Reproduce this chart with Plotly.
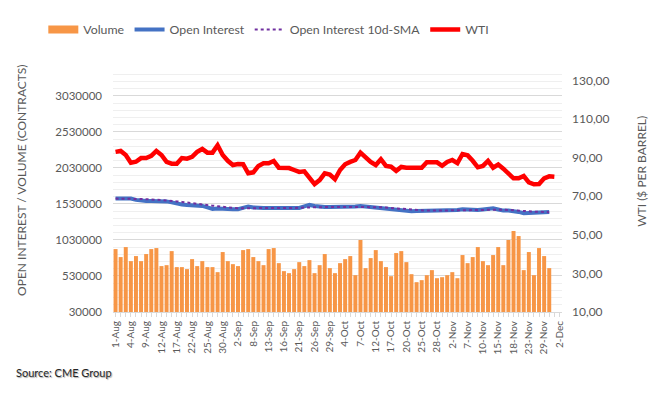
import plotly.graph_objects as go

# ---- categories (business days) ----
aug_days = [1, 2, 3, 4, 5, 8, 9, 10, 11, 12, 15, 16, 17, 18, 19, 22, 23, 24, 25, 26, 29, 30, 31]
sep_days = [1, 2, 6, 7, 8, 9, 12, 13, 14, 15, 16, 19, 20, 21, 22, 23, 26, 27, 28, 29, 30]
oct_days = [3, 4, 5, 6, 7, 10, 11, 12, 13, 14, 17, 18, 19, 20, 21, 24, 25, 26, 27, 28, 31]
nov_days = [1, 2, 3, 4, 7, 8, 9, 10, 11, 14, 15, 16, 17, 18, 21, 22, 23, 25, 28, 29, 30]
dec_days = [1, 2]
dates = ([f"{d}-Aug" for d in aug_days] + [f"{d}-Sep" for d in sep_days] +
         [f"{d}-Oct" for d in oct_days] + [f"{d}-Nov" for d in nov_days] +
         [f"{d}-Dec" for d in dec_days])

tick_labels = ["1-Aug", "4-Aug", "9-Aug", "12-Aug", "17-Aug", "22-Aug", "25-Aug", "30-Aug",
               "2-Sep", "8-Sep", "13-Sep", "16-Sep", "21-Sep", "26-Sep", "29-Sep",
               "4-Oct", "7-Oct", "12-Oct", "17-Oct", "20-Oct", "25-Oct", "28-Oct",
               "2-Nov", "7-Nov", "10-Nov", "15-Nov", "18-Nov", "23-Nov", "29-Nov", "2-Dec"]

# ---- series ----
volume = [903000, 792000, 931000, 736000, 806000, 736000, 834000, 903000, 917000, 667000,
          680000, 875000, 653000, 653000, 625000, 764000, 667000, 736000, 653000, 653000,
          583000, 862000, 736000, 694000, 667000, 889000, 903000, 792000, 736000, 680000,
          903000, 917000, 708000, 597000, 569000, 625000, 722000, 667000, 750000, 569000,
          680000, 834000, 639000, 569000, 708000, 764000, 806000, 541000, 1029000, 639000,
          778000, 889000, 736000, 653000, 527000, 848000, 875000, 722000, 555000, 444000,
          472000, 541000, 611000, 499000, 513000, 541000, 583000, 499000, 820000, 708000,
          792000, 931000, 736000, 680000, 820000, 931000, 680000, 1029000, 1154000, 1084000,
          611000, 862000, 541000, 917000, 806000, 639000]

open_interest = [1604000, 1604000, 1604000, 1604000, 1586000, 1572000, 1572000, 1572000, 1572000, 1572000,
                 1565000, 1551000, 1530000, 1523000, 1516000, 1509000, 1502000, 1502000, 1481000, 1460000,
                 1467000, 1460000, 1456000, 1456000, 1456000, 1474000, 1495000, 1481000, 1474000, 1474000,
                 1474000, 1474000, 1474000, 1474000, 1474000, 1474000, 1474000, 1495000, 1516000, 1502000,
                 1488000, 1488000, 1488000, 1488000, 1488000, 1488000, 1488000, 1495000, 1502000, 1495000,
                 1488000, 1474000, 1470000, 1460000, 1453000, 1446000, 1440000, 1433000, 1428000, 1433000,
                 1433000, 1437000, 1440000, 1442000, 1442000, 1442000, 1442000, 1446000, 1456000, 1453000,
                 1442000, 1446000, 1453000, 1460000, 1470000, 1453000, 1437000, 1437000, 1433000, 1419000,
                 1400000, 1405000, 1409000, 1412000, 1412000, 1419000]

oi_sma10 = [1604000, 1604000, 1604000, 1604000, 1604000, 1600000, 1596000, 1593000, 1589000, 1586000,
            1579000, 1572000, 1565000, 1558000, 1551000, 1544000, 1534000, 1526000, 1516000, 1506000,
            1498000, 1488000, 1481000, 1474000, 1470000, 1467000, 1470000, 1470000, 1472000, 1474000,
            1474000, 1474000, 1474000, 1474000, 1474000, 1474000, 1474000, 1477000, 1481000, 1484000,
            1485000, 1488000, 1488000, 1488000, 1488000, 1488000, 1488000, 1491000, 1492000, 1492000,
            1491000, 1488000, 1484000, 1479000, 1474000, 1467000, 1460000, 1453000, 1446000, 1442000,
            1440000, 1437000, 1437000, 1437000, 1437000, 1437000, 1440000, 1440000, 1442000, 1444000,
            1444000, 1446000, 1446000, 1449000, 1451000, 1451000, 1449000, 1446000, 1444000, 1440000,
            1433000, 1428000, 1423000, 1419000, 1419000, 1416000]

wti = [93.0, 93.5, 91.4, 87.4, 87.9, 89.8, 89.8, 90.9, 93.5, 91.4,
       87.8, 86.9, 86.9, 89.8, 89.5, 90.4, 93.0, 94.5, 92.6, 92.6,
       96.4, 91.4, 88.4, 86.2, 86.7, 86.6, 81.9, 82.4, 85.7, 87.1,
       87.1, 88.3, 84.8, 84.6, 84.6, 83.6, 82.6, 82.9, 79.3, 76.3,
       78.4, 81.9, 81.2, 78.8, 83.6, 86.6, 87.8, 88.8, 92.6, 90.2,
       87.8, 86.2, 89.2, 85.7, 85.3, 83.2, 85.2, 84.8, 84.8, 84.3,
       84.8, 87.6, 87.8, 87.6, 85.8, 87.8, 88.8, 87.2, 91.9, 91.2,
       88.4, 85.0, 85.7, 88.3, 84.8, 86.4, 84.3, 81.9, 79.3, 79.3,
       80.5, 77.2, 76.2, 76.3, 79.3, 80.3, 80.1]

ORANGE = "#F79646"
BLUE = "#4472C4"
PURPLE = "#7030A0"
RED = "#FF0000"
GREY_TXT = "#595959"

fig = go.Figure()

# legend-only swatch for volume (wide rectangle like the original)
fig.add_trace(go.Scatter(x=[None], y=[None], mode="lines", name="Volume",
                         line=dict(color=ORANGE, width=8), hoverinfo="skip"))
fig.add_trace(go.Bar(x=dates[:len(volume)], y=volume, name="Volume",
                     marker=dict(color=ORANGE, line=dict(width=0)), showlegend=False))
fig.add_trace(go.Scatter(x=dates[:len(open_interest)], y=open_interest, name="Open Interest",
                         mode="lines", line=dict(color=BLUE, width=4)))
fig.add_trace(go.Scatter(x=dates[:len(oi_sma10)], y=oi_sma10, name="Open Interest 10d-SMA",
                         mode="lines", line=dict(color=PURPLE, width=2, dash="dot")))
fig.add_trace(go.Scatter(x=dates[:len(wti)], y=wti, name="WTI", yaxis="y2",
                         mode="lines", line=dict(color=RED, width=4.5)))

fig.update_layout(
    width=667, height=394,
    margin=dict(l=113, r=105, t=67, b=82),
    paper_bgcolor="white", plot_bgcolor="white",
    separators=",.",
    font=dict(family="Lato, 'Open Sans', sans-serif", color=GREY_TXT, size=12),
    bargap=0.22,
    legend=dict(orientation="h", xref="paper", yref="paper",
                x=-0.1552, y=1.153, xanchor="left", yanchor="middle",
                font=dict(size=12.3, color=GREY_TXT), traceorder="normal",
                bgcolor="rgba(0,0,0,0)"),
    xaxis=dict(type="category", categoryorder="array", categoryarray=dates,
               range=[-0.5, len(dates) - 0.5], tickmode="array", tickvals=dates,
               ticktext=[d if d in tick_labels else "" for d in dates],
               tickangle=-90, ticks="outside", ticklen=4, tickcolor="#D9D9D9",
               showline=True, linecolor="#D9D9D9", linewidth=1, showgrid=False,
               tickfont=dict(size=10, color=GREY_TXT)),
    yaxis=dict(range=[30000, 3430000], tickmode="linear", tick0=30000, dtick=500000,
               tickformat="d", showgrid=True, gridcolor="#D9D9D9", gridwidth=1,
               minor=dict(tickmode="linear", tick0=30000, dtick=100000, showgrid=True,
                          gridcolor="#EFEFEF", gridwidth=1),
               zeroline=False, showline=False, ticks="", ticklabelstandoff=10,
               tickfont=dict(size=11.5, color=GREY_TXT)),
    yaxis2=dict(overlaying="y", side="right", range=[10, 137], tickmode="linear",
                tick0=10, dtick=20, tickformat=".2f", showgrid=False, zeroline=False,
                showline=False, ticks="", ticklabelstandoff=9,
                tickfont=dict(size=12, color=GREY_TXT)),
    annotations=[
        dict(text="OPEN INTEREST / VOLUME (CONTRACTS)", xref="paper", yref="paper",
             x=-0.2027, y=0.539, textangle=-90, showarrow=False,
             xanchor="center", yanchor="middle", font=dict(size=12, color=GREY_TXT)),
        dict(text="WTI ($ PER BARREL)", xref="paper", yref="paper",
             x=1.178, y=0.576, textangle=-90, showarrow=False,
             xanchor="center", yanchor="middle", font=dict(size=12, color=GREY_TXT)),
        dict(text="Source: CME Group", xref="paper", yref="paper",
             x=-0.2198, y=-0.2467, xanchor="left", yanchor="middle", showarrow=False,
             font=dict(size=11, color="#262626", shadow="1px 1px 1px rgba(0,0,0,0.35)")),
    ],
)

fig.write_html("out.html", config={"displayModeBar": False},
               post_script="document.body.style.margin='0px';")
